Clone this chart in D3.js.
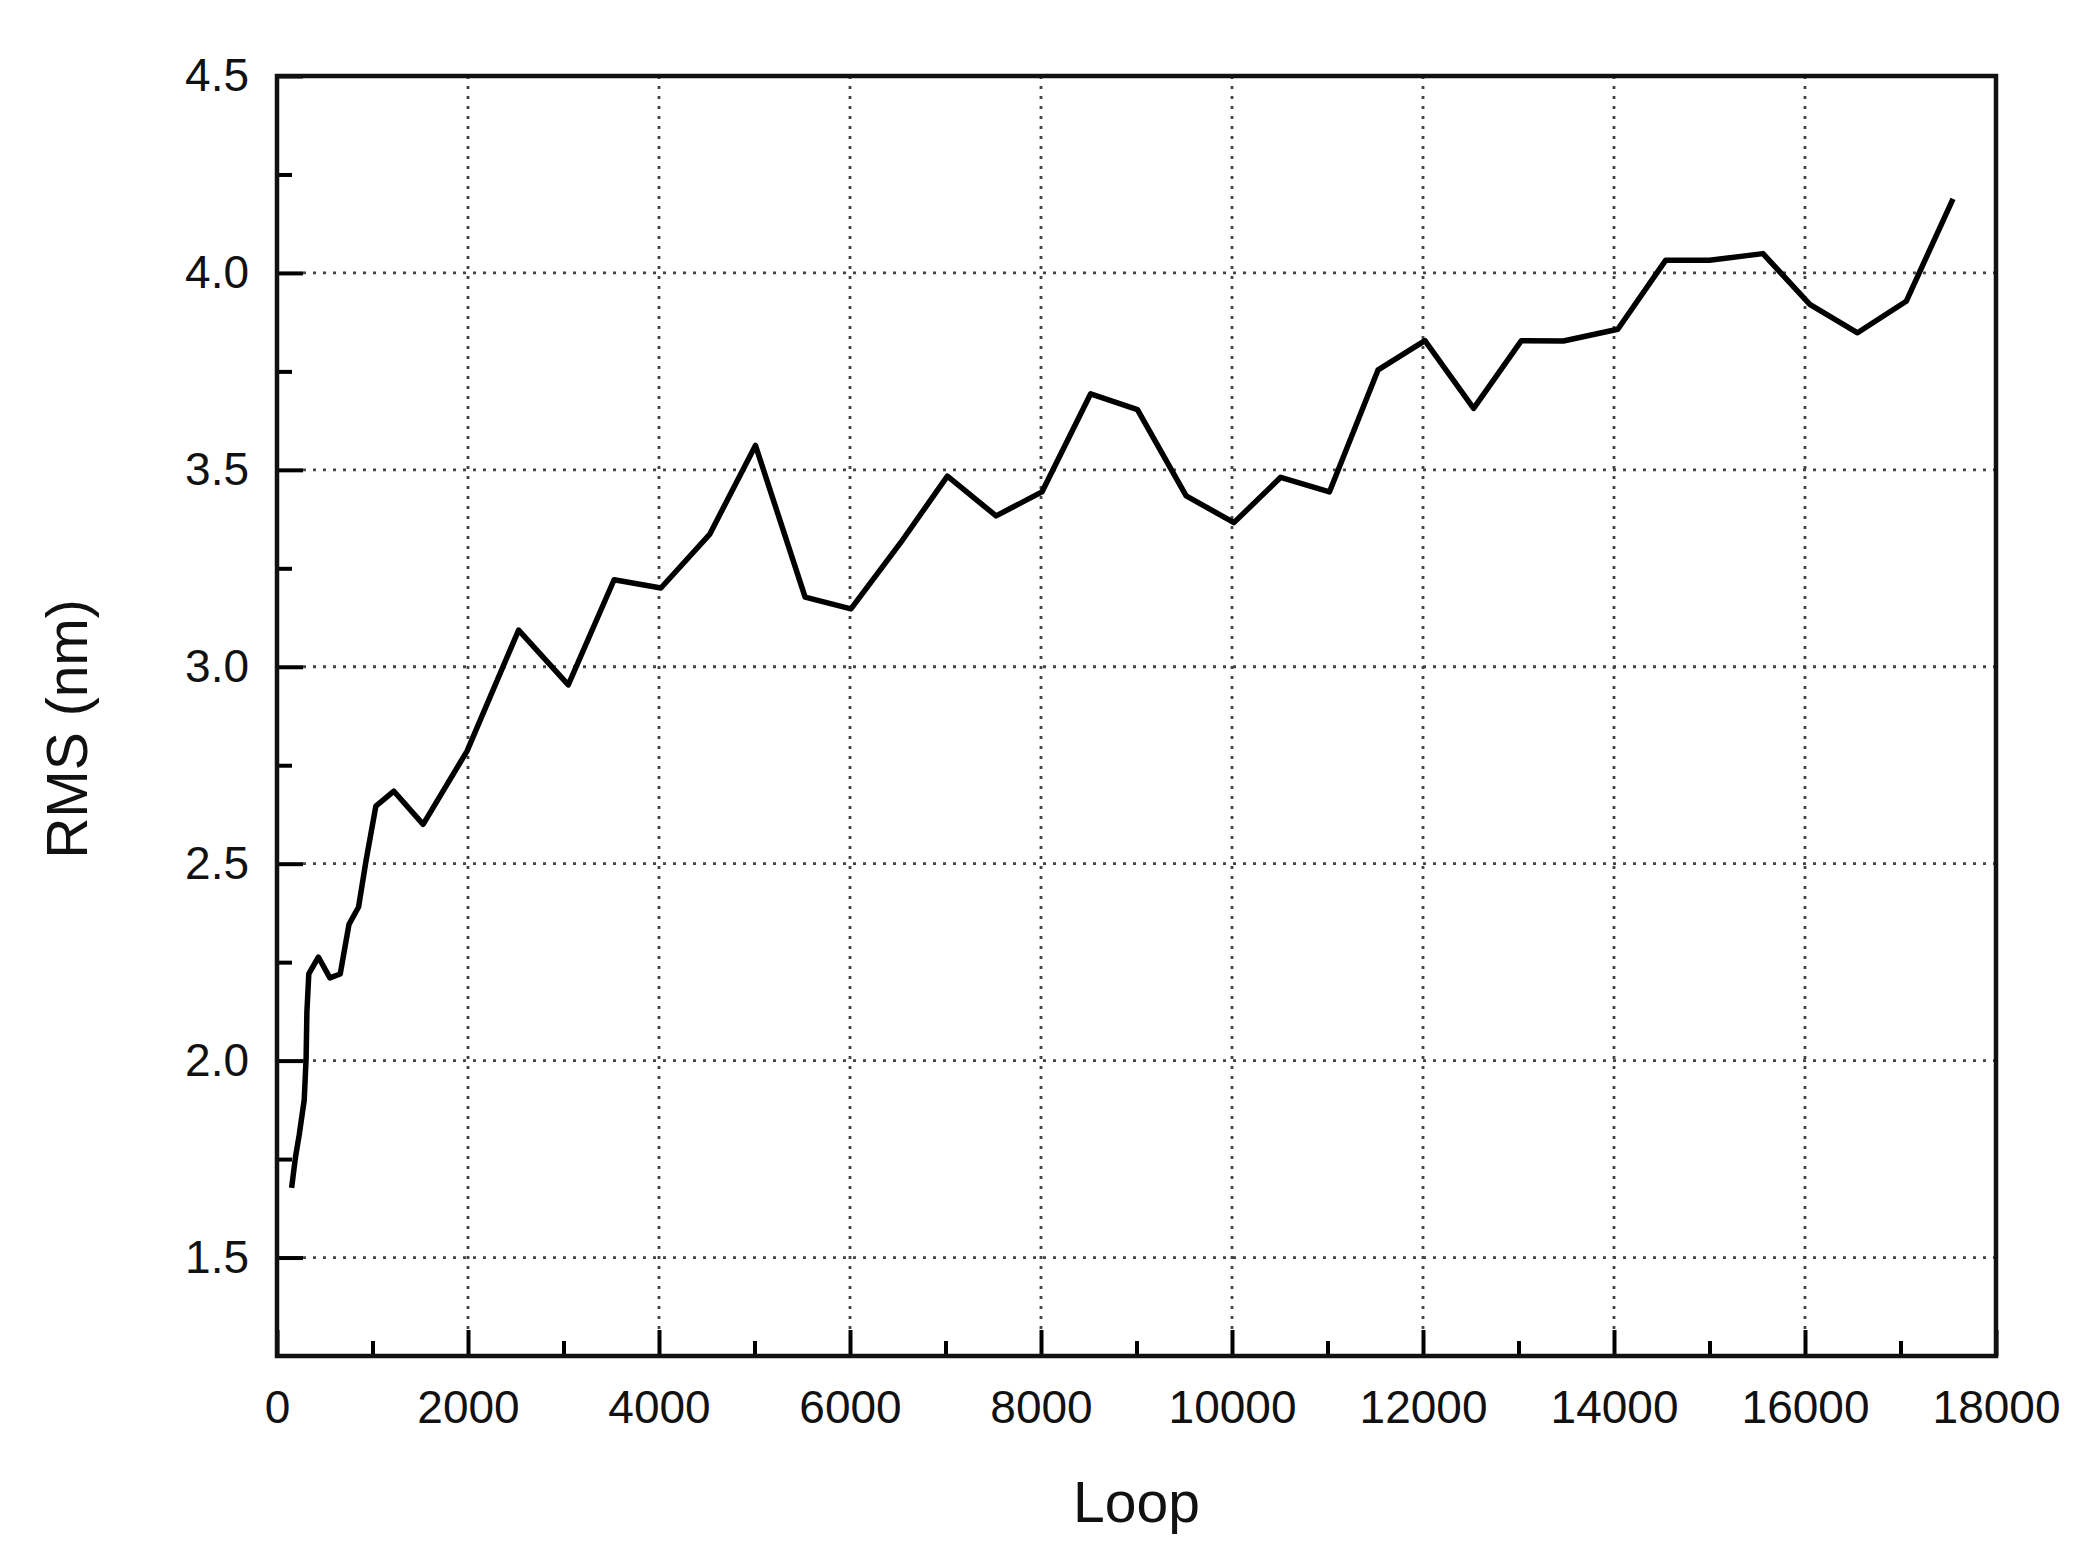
<!DOCTYPE html>
<html>
<head>
<meta charset="utf-8">
<script src="https://cdn.jsdelivr.net/npm/d3@7"></script>
<style>
  html, body { margin: 0; padding: 0; background: #fff; }
  svg { display: block; font-family: "Liberation Sans", Arial, sans-serif; }
  .axis path { display: none; }
  .axis line { stroke: #000; stroke-width: 4; }
  .axis text { font-size: 46px; fill: #111; }
  .grid line { stroke: #444; stroke-width: 2.8; stroke-dasharray: 3 7; }
</style>
</head>
<body>
<svg id="chart"></svg>
<script>
// Data
const loops = [153, 193, 233, 285, 305, 313, 333, 433, 554, 662, 754, 854, 934, 1035,
  1224, 1530, 1990, 2530, 3050, 3530, 4020, 4530, 5010, 5530, 6010, 6530, 7020, 7530,
  8010, 8520, 9010, 9520, 10020, 10510, 11020, 11530, 12020, 12530, 13030, 13470,
  14040, 14540, 15000, 15560, 16050, 16550, 17060, 17550];
const rms = [1.677, 1.754, 1.812, 1.90, 2.007, 2.123, 2.22, 2.263, 2.21, 2.22, 2.346, 2.39, 2.51, 2.646,
  2.684, 2.60, 2.786, 3.093, 2.954, 3.221, 3.20, 3.336, 3.562, 3.177, 3.147, 3.315, 3.484, 3.383,
  3.444, 3.693, 3.653, 3.434, 3.366, 3.481, 3.444, 3.754, 3.828, 3.656, 3.828, 3.827,
  3.857, 4.032, 4.032, 4.049, 3.92, 3.848, 3.928, 4.188];

const xMajor = [0, 2000, 4000, 6000, 8000, 10000, 12000, 14000, 16000, 18000];
const xMinor = [1000, 3000, 5000, 7000, 9000, 11000, 13000, 15000, 17000];
const yMajor = [1.5, 2.0, 2.5, 3.0, 3.5, 4.0, 4.5];
const yMinor = [1.75, 2.25, 2.75, 3.25, 3.75, 4.25];

const W = 2085, H = 1553;
const margin = { top: 76, right: 89, bottom: 197, left: 277 };
const w = W - margin.left - margin.right;
const h = H - margin.top - margin.bottom;

const svg = d3.select("#chart").attr("width", W).attr("height", H);
const g = svg.append("g").attr("transform", `translate(${margin.left},${margin.top})`);

const x = d3.scaleLinear().domain([0, 18000]).range([0, w]);
const y = d3.scaleLinear().domain([1.25, 4.5]).range([h, 0]);

// Dotted grid at major ticks (inside the frame only)
g.append("g").attr("class", "grid")
  .selectAll("line")
  .data(yMajor.filter(v => v < 4.5))
  .join("line")
  .attr("x1", 26).attr("x2", w)
  .attr("y1", d => y(d)).attr("y2", d => y(d));

g.append("g").attr("class", "grid")
  .selectAll("line")
  .data(xMajor.filter(v => v > 0 && v < 18000))
  .join("line")
  .attr("x1", d => x(d)).attr("x2", d => x(d))
  .attr("y1", 0).attr("y2", h - 26);

// Axes: ticks point inward
g.append("g").attr("class", "axis")
  .attr("transform", `translate(0,${h})`)
  .call(d3.axisBottom(x).tickValues(xMajor).tickSize(-26).tickPadding(34).tickFormat(d3.format("d")));

g.append("g").attr("class", "axis")
  .attr("transform", `translate(0,${h})`)
  .call(d3.axisBottom(x).tickValues(xMinor).tickSize(-15).tickFormat(""));

g.append("g").attr("class", "axis")
  .call(d3.axisLeft(y).tickValues(yMajor).tickSize(-26).tickPadding(28).tickFormat(d3.format(".1f")));

g.append("g").attr("class", "axis")
  .call(d3.axisLeft(y).tickValues(yMinor).tickSize(-15).tickFormat(""));

// Data line
const line = d3.line()
  .x((d, i) => x(loops[i]))
  .y(d => y(d));

g.append("path")
  .datum(rms)
  .attr("fill", "none")
  .attr("stroke", "#000")
  .attr("stroke-width", 5.5)
  .attr("stroke-linejoin", "round")
  .attr("d", line);

// Frame
g.append("rect")
  .attr("width", w).attr("height", h)
  .attr("fill", "none")
  .attr("stroke", "#111")
  .attr("stroke-width", 4.5);

// Axis titles
svg.append("text")
  .attr("x", margin.left + w / 2)
  .attr("y", 1522)
  .attr("text-anchor", "middle")
  .attr("font-size", 57)
  .attr("fill", "#111")
  .text("Loop");

svg.append("text")
  .attr("transform", "translate(87,729) rotate(-90)")
  .attr("text-anchor", "middle")
  .attr("font-size", 57)
  .attr("fill", "#111")
  .text("RMS (nm)");
</script>
</body>
</html>
